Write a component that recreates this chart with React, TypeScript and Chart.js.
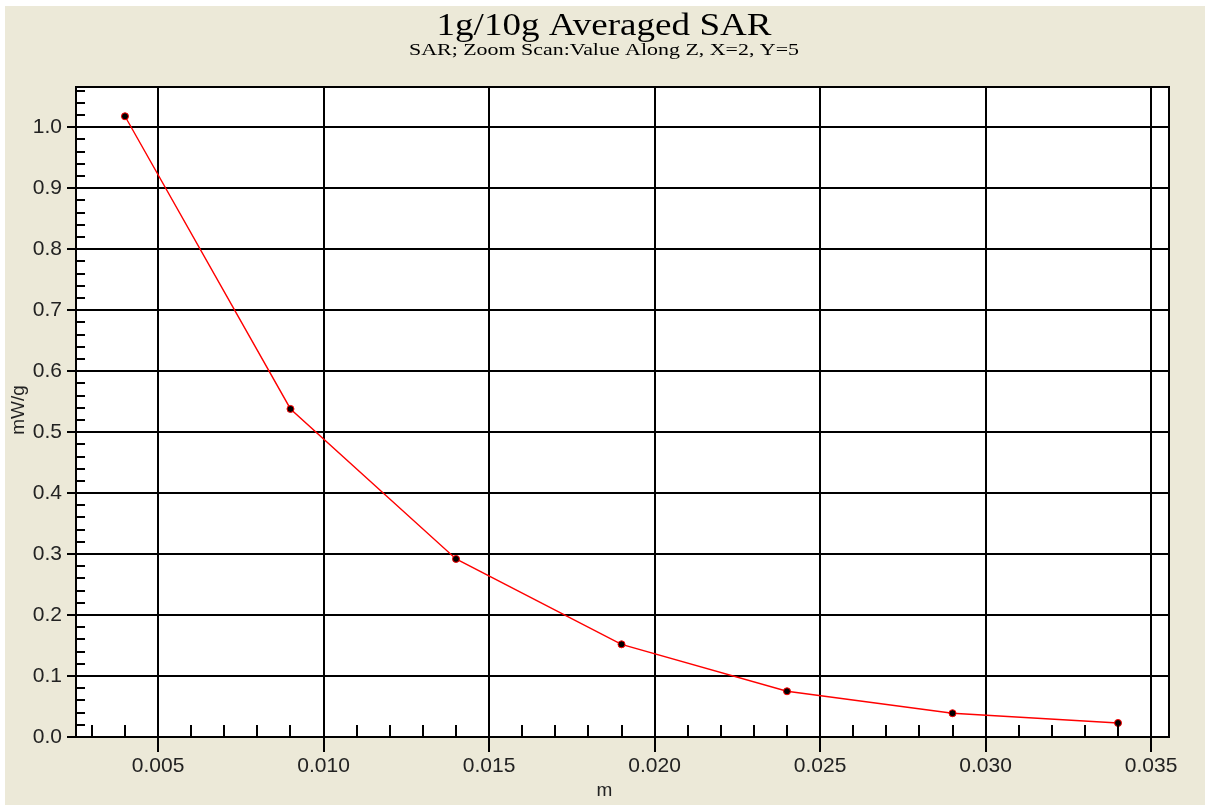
import React, { useEffect, useRef } from "react";
import { Chart, registerables } from "chart.js";

Chart.register(...registerables);

const titleText = "1g/10g Averaged SAR";
const subtitleText = "SAR; Zoom Scan:Value Along Z, X=2, Y=5";
const xAxisTitle = "m";
const yAxisTitle = "mW/g";

const depthValues = [0.004, 0.009, 0.014, 0.019, 0.024, 0.029, 0.034];
const sarValues = [1.018, 0.538, 0.292, 0.152, 0.075, 0.039, 0.023];

const xTickValues = [0.005, 0.01, 0.015, 0.02, 0.025, 0.03, 0.035];
const yTickValues = [0, 0.1, 0.2, 0.3, 0.4, 0.5, 0.6, 0.7, 0.8, 0.9, 1.0];

const X_MIN = 0.00252;
const X_MAX = 0.03554;
const Y_MIN = 0;
const Y_MAX = 1.066;

const BEIGE = "#ECE9D8";
const TEXT = "#222222";

function drawStretched(ctx: any, text: string, cx: number, y: number, font: string, targetWidth: number) {
  ctx.save();
  ctx.font = font;
  const w = ctx.measureText(text).width;
  const sx = targetWidth / w;
  ctx.translate(cx, y);
  ctx.scale(sx, 1);
  ctx.textAlign = "center";
  ctx.textBaseline = "alphabetic";
  ctx.fillText(text, 0, 0);
  ctx.restore();
}

const decorPlugin = {
  id: "decor",
  beforeDraw(chart: any) {
    const { ctx, width, height, chartArea } = chart;
    ctx.save();
    ctx.fillStyle = BEIGE;
    ctx.fillRect(0, 0, width, height);
    ctx.fillStyle = "#ffffff";
    ctx.fillRect(chartArea.left, chartArea.top, chartArea.right - chartArea.left, chartArea.bottom - chartArea.top);
    ctx.fillStyle = "#000000";
    drawStretched(ctx, titleText, width / 2 - 1, 29, "32px 'Liberation Serif', 'Times New Roman', serif", 335);
    drawStretched(ctx, subtitleText, width / 2 - 1, 49, "17px 'Liberation Serif', 'Times New Roman', serif", 390);
    ctx.restore();
  },
  afterDraw(chart: any) {
    const { ctx, chartArea, scales } = chart;
    const xs = scales.x;
    const ys = scales.y;
    ctx.save();
    ctx.strokeStyle = "#000000";
    ctx.lineWidth = 2;
    ctx.beginPath();
    ctx.moveTo(chartArea.left, chartArea.top);
    ctx.lineTo(chartArea.right, chartArea.top);
    ctx.lineTo(chartArea.right, chartArea.bottom);
    ctx.stroke();
    ctx.beginPath();
    for (let i = 1; i <= 53; i++) {
      if (i % 5 === 0) continue;
      const v = i * 0.02;
      if (v > Y_MAX) break;
      const py = Math.round(ys.getPixelForValue(v));
      ctx.moveTo(chartArea.left, py);
      ctx.lineTo(chartArea.left + 9, py);
    }
    for (let i = 3; i <= 35; i++) {
      if (i % 5 === 0) continue;
      const v = i * 0.001;
      const px = Math.round(xs.getPixelForValue(v));
      ctx.moveTo(px, chartArea.bottom);
      ctx.lineTo(px, chartArea.bottom - 12);
    }
    ctx.stroke();
    ctx.fillStyle = TEXT;
    ctx.font = "19px 'Liberation Sans', Arial, sans-serif";
    ctx.textAlign = "center";
    ctx.textBaseline = "alphabetic";
    ctx.fillText(xAxisTitle, (chartArea.left + chartArea.right) / 2 - 18, 790);
    ctx.translate(19, 404);
    ctx.rotate(-Math.PI / 2);
    ctx.fillText(yAxisTitle, 0, 0);
    ctx.restore();
  },
};

export default function App() {
  const canvasRef = useRef<HTMLCanvasElement | null>(null);

  useEffect(() => {
    if (!canvasRef.current) return;
    const chart = new Chart(canvasRef.current, {
      type: "line",
      data: {
        datasets: [
          {
            data: depthValues.map((x, i) => ({ x, y: sarValues[i] })),
            borderColor: "#ff0000",
            borderWidth: 1.4,
            tension: 0,
            pointRadius: 3.5,
            pointBackgroundColor: "#000000",
            pointBorderColor: "#ff0000",
            pointBorderWidth: 1,
            fill: false,
          },
        ],
      },
      options: {
        animation: false,
        responsive: false,
        maintainAspectRatio: false,
        events: [],
        layout: { padding: { left: 11, top: 81, right: 36, bottom: 28 } },
        plugins: {
          legend: { display: false },
          tooltip: { enabled: false },
          title: { display: false },
        },
        scales: {
          x: {
            type: "linear",
            min: X_MIN,
            max: X_MAX,
            afterBuildTicks: (scale: any) => {
              scale.ticks = xTickValues.map((v) => ({ value: v }));
            },
            afterFit: (scale: any) => {
              scale.height = 40;
            },
            ticks: {
              autoSkip: false,
              maxRotation: 0,
              padding: 2,
              color: TEXT,
              font: { family: "'Liberation Sans', Arial, sans-serif", size: 21 },
              callback: (v: any) => Number(v).toFixed(3),
            },
            grid: { color: "#000000", lineWidth: 2, tickLength: 15, drawTicks: true },
            border: { display: true, color: "#000000", width: 2 },
          },
          y: {
            type: "linear",
            min: Y_MIN,
            max: Y_MAX,
            afterBuildTicks: (scale: any) => {
              scale.ticks = yTickValues.map((v) => ({ value: v }));
            },
            afterFit: (scale: any) => {
              scale.width = 60;
            },
            ticks: {
              autoSkip: false,
              padding: 5,
              color: TEXT,
              font: { family: "'Liberation Sans', Arial, sans-serif", size: 21 },
              callback: (v: any) => Number(v).toFixed(1),
            },
            grid: { color: "#000000", lineWidth: 2, tickLength: 9, drawTicks: true },
            border: { display: true, color: "#000000", width: 2 },
          },
        },
      },
      plugins: [decorPlugin],
    });
    return () => chart.destroy();
  }, []);

  return (
    <div style={{ position: "fixed", left: 5, top: 6, width: 1200, height: 799, background: BEIGE }}>
      <canvas ref={canvasRef} width={1200} height={799} style={{ display: "block", width: 1200, height: 799 }} />
    </div>
  );
}
